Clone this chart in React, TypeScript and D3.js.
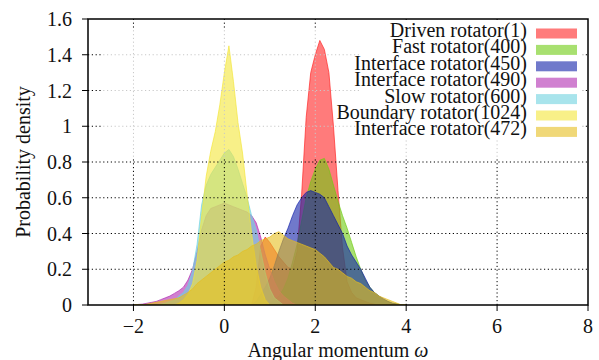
import React from "react";
import * as d3 from "d3";

// ---- data ----
const OMEGA = [
  -2.0, -1.9, -1.8, -1.7, -1.6, -1.5, -1.4, -1.3, -1.2, -1.1,
  -1.0, -0.9, -0.8, -0.7, -0.6, -0.5, -0.4, -0.3, -0.2, -0.1,
  0.0, 0.1, 0.2, 0.3, 0.4, 0.5, 0.6, 0.7, 0.8, 0.9,
  1.0, 1.1, 1.2, 1.3, 1.4, 1.5, 1.6, 1.7, 1.8, 1.9,
  2.0, 2.1, 2.2, 2.3, 2.4, 2.5, 2.6, 2.7, 2.8, 2.9,
  3.0, 3.1, 3.2, 3.3, 3.4, 3.5, 3.6, 3.7, 3.8, 3.9,
  4.0,
];

const DRIVEN_1 = [
  0, 0, 0, 0, 0, 0, 0, 0, 0, 0,
  0, 0, 0, 0, 0, 0, 0, 0, 0, 0,
  0, 0, 0, 0, 0, 0, 0, 0.1, 0.33, 0.38,
  0.35, 0.31, 0.27, 0.24, 0.21, 0.2, 0.3, 0.62, 1.05, 1.3,
  1.4, 1.48, 1.43, 1.3, 1.0, 0.64, 0.32, 0.13, 0.07, 0.04,
  0.03, 0.02, 0.01, 0.005, 0, 0, 0, 0, 0, 0,
  0,
];

const FAST_400 = [
  0, 0, 0, 0, 0, 0, 0, 0, 0, 0,
  0, 0, 0, 0, 0, 0, 0, 0, 0, 0,
  0, 0, 0, 0, 0, 0, 0, 0, 0, 0.005,
  0.01, 0.03, 0.05, 0.09, 0.15, 0.24, 0.34, 0.47, 0.6, 0.69,
  0.76, 0.81, 0.82, 0.76, 0.67, 0.58, 0.5, 0.43, 0.35, 0.27,
  0.2, 0.14, 0.1, 0.07, 0.05, 0.03, 0.02, 0.01, 0.005, 0,
  0,
];

const INTERFACE_450 = [
  0, 0, 0, 0, 0, 0, 0, 0, 0, 0,
  0, 0, 0, 0, 0, 0, 0, 0, 0, 0,
  0, 0, 0, 0, 0, 0, 0, 0.02, 0.06, 0.1,
  0.15, 0.22, 0.3, 0.37, 0.43, 0.5, 0.56, 0.6, 0.63, 0.64,
  0.63, 0.62, 0.6, 0.55, 0.5, 0.45, 0.4, 0.33, 0.28, 0.24,
  0.2, 0.15, 0.1, 0.07, 0.05, 0.035, 0.02, 0.01, 0.005, 0,
  0,
];

const INTERFACE_490 = [
  0, 0.003, 0.005, 0.01, 0.015, 0.02, 0.03, 0.04, 0.05, 0.065,
  0.08, 0.1, 0.14, 0.2, 0.3, 0.42, 0.5, 0.54, 0.55, 0.56,
  0.57, 0.56, 0.55, 0.54, 0.53, 0.52, 0.5, 0.46, 0.38, 0.28,
  0.2, 0.13, 0.08, 0.05, 0.03, 0.01, 0, 0, 0, 0,
  0, 0, 0, 0, 0, 0, 0, 0, 0, 0,
  0, 0, 0, 0, 0, 0, 0, 0, 0, 0,
  0,
];

const SLOW_600 = [
  0, 0, 0, 0, 0, 0, 0.005, 0.01, 0.02, 0.025,
  0.05, 0.07, 0.11, 0.19, 0.34, 0.56, 0.67, 0.73, 0.77, 0.81,
  0.85, 0.87, 0.83, 0.76, 0.68, 0.6, 0.5, 0.42, 0.3, 0.18,
  0.09, 0.04, 0.02, 0, 0, 0, 0, 0, 0, 0,
  0, 0, 0, 0, 0, 0, 0, 0, 0, 0,
  0, 0, 0, 0, 0, 0, 0, 0, 0, 0,
  0,
];

const BOUNDARY_1024 = [
  0, 0, 0, 0, 0, 0, 0, 0, 0, 0,
  0.01, 0.03, 0.06, 0.12, 0.25, 0.5, 0.72, 0.86, 0.97, 1.12,
  1.3, 1.45, 1.25, 1.02, 0.85, 0.62, 0.4, 0.22, 0.1, 0.03,
  0, 0, 0, 0, 0, 0, 0, 0, 0, 0,
  0, 0, 0, 0, 0, 0, 0, 0, 0, 0,
  0, 0, 0, 0, 0, 0, 0, 0, 0, 0,
  0,
];

const INTERFACE_472 = [
  0, 0, 0, 0.005, 0.01, 0.015, 0.02, 0.025, 0.03, 0.035,
  0.04, 0.055, 0.07, 0.09, 0.12, 0.14, 0.16, 0.18, 0.2, 0.22,
  0.24, 0.25, 0.27, 0.28, 0.3, 0.31, 0.33, 0.34, 0.36, 0.37,
  0.38, 0.4, 0.41, 0.39, 0.37, 0.36, 0.35, 0.34, 0.33, 0.32,
  0.31, 0.29, 0.27, 0.24, 0.21, 0.2, 0.18, 0.16, 0.15, 0.13,
  0.12, 0.1, 0.08, 0.07, 0.05, 0.04, 0.03, 0.02, 0.01, 0,
  0,
];

const SERIES_NAMES = [
  "Driven rotator(1)",
  "Fast rotator(400)",
  "Interface rotator(450)",
  "Interface rotator(490)",
  "Slow rotator(600)",
  "Boundary rotator(1024)",
  "Interface rotator(472)",
];
const SERIES_VALUES = [
  DRIVEN_1,
  FAST_400,
  INTERFACE_450,
  INTERFACE_490,
  SLOW_600,
  BOUNDARY_1024,
  INTERFACE_472,
];
const SERIES_COLORS = [
  "#ff2323",
  "#6ecb11",
  "#1020a8",
  "#b12bb1",
  "#6ed2df",
  "#f3e639",
  "#e6be1e",
];

const X_TICKS = [-2, 0, 2, 4, 6, 8];
const X_TICK_LABELS = ["\u22122", "0", "2", "4", "6", "8"];
const Y_TICKS = [0, 0.2, 0.4, 0.6, 0.8, 1, 1.2, 1.4, 1.6];
const Y_TICK_LABELS = ["0", "0.2", "0.4", "0.6", "0.8", "1", "1.2", "1.4", "1.6"];

// ---- layout ----
const W = 599;
const H = 360;
const M = { left: 88, right: 11, top: 19, bottom: 55 };
const FONT = "'Liberation Serif', 'Times New Roman', serif";

export default function App() {
  const x = d3.scaleLinear().domain([-3, 8]).range([M.left, W - M.right]);
  const y = d3.scaleLinear().domain([0, 1.6]).range([H - M.bottom, M.top]);

  const area = d3
    .area<[number, number]>()
    .x((d) => x(d[0]))
    .y0(y(0))
    .y1((d) => y(d[1]))
    .curve(d3.curveLinear);

  const x0 = M.left;
  const x1 = W - M.right;
  const y0 = H - M.bottom;
  const y1 = M.top;

  // region where the grid looks washed out in the original
  const faint = { x: 103, y: 30, w: 480, h: 128 };

  const gridLines = (stroke: string) => (
    <g stroke={stroke} strokeWidth={1} strokeDasharray="1.2,2.6">
      {X_TICKS.filter((t) => t > -3 && t < 8).map((t) => (
        <line key={"gx" + t} x1={x(t)} x2={x(t)} y1={y0} y2={y1} />
      ))}
      {Y_TICKS.filter((t) => t > 0 && t < 1.6).map((t) => (
        <line key={"gy" + t} x1={x0} x2={x1} y1={y(t)} y2={y(t)} />
      ))}
    </g>
  );

  const legendRight = 527;
  const legendRowY = (i: number) => 33.5 + i * 16.4;

  return (
    <svg
      width={W}
      height={H}
      style={{ position: "absolute", left: 0, top: 0, display: "block" }}
      fontFamily={FONT}
    >
      <defs>
        <clipPath id="plotClip">
          <rect x={x0} y={y1} width={x1 - x0} height={y0 - y1} />
        </clipPath>
        <mask id="darkMask">
          <rect x={0} y={0} width={W} height={H} fill="white" />
          <rect x={faint.x} y={faint.y} width={faint.w} height={faint.h} fill="black" />
        </mask>
        <mask id="lightMask">
          <rect x={faint.x} y={faint.y} width={faint.w} height={faint.h} fill="white" />
        </mask>
      </defs>
      <rect x={0} y={0} width={W} height={H} fill="white" />

      <g clipPath="url(#plotClip)">
        {SERIES_VALUES.map((vals, i) => {
          const pts = OMEGA.map((w, k) => [w, vals[k]] as [number, number]);
          return (
            <path
              key={SERIES_NAMES[i]}
              d={area(pts) || ""}
              fill={SERIES_COLORS[i]}
              fillOpacity={0.6}
              stroke={SERIES_COLORS[i]}
              strokeOpacity={0.75}
              strokeWidth={0.9}
              strokeLinejoin="round"
            />
          );
        })}
        <g mask="url(#darkMask)">{gridLines("#000")}</g>
        <g mask="url(#lightMask)">{gridLines("#c8c8c8")}</g>
      </g>

      {/* legend */}
      <rect x={360} y={20} width={221} height={120} fill="white" />
      {SERIES_NAMES.map((name, i) => (
        <g key={"lg" + name}>
          <text
            x={legendRight}
            y={legendRowY(i) + 3.5}
            textAnchor="end"
            fontSize={20}
            fill="#111"
          >
            {name}
          </text>
          <rect
            x={536}
            y={legendRowY(i) - 5}
            width={41}
            height={10}
            fill={SERIES_COLORS[i]}
            fillOpacity={0.6}
          />
        </g>
      ))}

      {/* frame */}
      <rect
        x={x0}
        y={y1}
        width={x1 - x0}
        height={y0 - y1}
        fill="none"
        stroke="#000"
        strokeWidth={1.5}
      />

      {/* y axis ticks */}
      {Y_TICKS.map((t, i) => (
        <g key={"yt" + t}>
          <line x1={x0 - 6} x2={x0} y1={y(t)} y2={y(t)} stroke="#000" strokeWidth={1} />
          <text
            x={72}
            y={y(t)}
            dy="0.35em"
            textAnchor="end"
            fontSize={20}
            fill="#111"
          >
            {Y_TICK_LABELS[i]}
          </text>
        </g>
      ))}

      {/* x axis ticks */}
      {X_TICKS.map((t, i) => (
        <g key={"xt" + t}>
          <line x1={x(t)} x2={x(t)} y1={y0} y2={y0 + 6} stroke="#000" strokeWidth={1} />
          <text x={x(t)} y={333} textAnchor="middle" fontSize={20} fill="#111">
            {X_TICK_LABELS[i]}
          </text>
        </g>
      ))}

      {/* axis titles */}
      <text x={(x0 + x1) / 2} y={357} textAnchor="middle" fontSize={20} fill="#111">
        Angular momentum <tspan fontStyle="italic">ω</tspan>
      </text>
      <text
        transform={`translate(30, ${(y0 + y1) / 2}) rotate(-90)`}
        textAnchor="middle"
        fontSize={20}
        fill="#111"
      >
        Probability density
      </text>
    </svg>
  );
}
